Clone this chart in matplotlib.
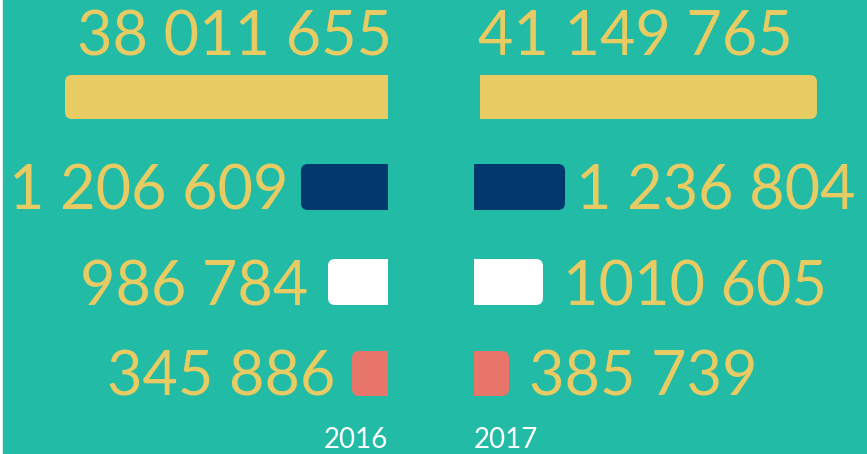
import matplotlib.pyplot as plt
from matplotlib.patches import FancyBboxPatch, Rectangle

# values for each row (top to bottom)
labels_2016 = ["38 011 655", "1 206 609", "986 784", "345 886"]
labels_2017 = ["41 149 765", "1 236 804", "1010 605", "385 739"]
values_2016 = [38011655, 1206609, 986784, 345886]
values_2017 = [41149765, 1236804, 1010605, 385739]
years = ["2016", "2017"]

colors = ["#E8CB62", "#01396E", "#FFFFFF", "#E8756A"]
bg = "#21BBA6"
txt_col = "#E8CB62"

# each row has its own scale (the original is not drawn to one scale)
xmax_2016 = [45.66e6, 5.38e6, 6.38e6, 3.73e6]
xmax_2017 = [47.26e6, 5.34e6, 5.76e6, 4.33e6]

W, H = 867, 454
# bar top / bottom in pixels from top of image
rows_px = [(75, 119), (164, 210), (259, 305), (351, 396)]
# gap between bar end and its label, pixels
gap_l = [0, 12, 20, 17]
gap_r = [0, 11, 20, 20]

fig = plt.figure(figsize=(W / 100, H / 100), dpi=100)
fig.patch.set_facecolor("white")
fig.add_artist(Rectangle((3 / W, 0), 1 - 3 / W, 1, transform=fig.transFigure,
                         color=bg, zorder=0))

font = dict(family="Lato", weight="normal", color=txt_col, fontsize=44)


def round_bar(ax, bar, radius_px):
    x, y = bar.get_x(), bar.get_y()
    w, h = bar.get_width(), bar.get_height()
    t = ax.transData
    sx = abs(t.transform((1, 0))[0] - t.transform((0, 0))[0])
    sy = abs(t.transform((0, 1))[1] - t.transform((0, 0))[1])
    r = radius_px / sx
    ax.add_patch(FancyBboxPatch((x, y), w, h,
                                boxstyle=f"round,pad=0,rounding_size={r}",
                                mutation_aspect=sx / sy,
                                fc=bar.get_facecolor(), ec="none", zorder=2))
    # square off the inner end
    ax.add_patch(Rectangle((x, y), w / 2, h, fc=bar.get_facecolor(),
                           ec="none", zorder=2))
    bar.set_visible(False)


for i, (top, bot) in enumerate(rows_px):
    yb = (H - bot) / H
    hh = (bot - top) / H
    right_x0 = 480 if i == 0 else 474

    axl = fig.add_axes([0, yb, 388 / W, hh])
    axr = fig.add_axes([right_x0 / W, yb, (W - right_x0) / W, hh])
    axl.set_xlim(xmax_2016[i], 0)
    axr.set_xlim(0, xmax_2017[i])

    for ax, v, lab, side, gap in [(axl, values_2016[i], labels_2016[i], -1, gap_l[i]),
                                  (axr, values_2017[i], labels_2017[i], 1, gap_r[i])]:
        ax.set_ylim(-0.5, 0.5)
        ax.axis("off")
        bars = ax.barh(0, v, height=1, color=colors[i])
        round_bar(ax, bars[0], 7)
        ha = "right" if side < 0 else "left"
        if i == 0:
            ax.annotate(lab, xy=(0, 0.5), xytext=(-2 if side > 0 else 4, 19),
                        textcoords="offset pixels", ha=ha, va="baseline",
                        annotation_clip=False, **font)
        else:
            ax.annotate(lab, xy=(v, -0.5), xytext=(side * gap, 0),
                        textcoords="offset pixels", ha=ha, va="baseline",
                        annotation_clip=False, **font)

    if i == 3:
        for ax, yr, ha in [(axl, years[0], "right"), (axr, years[1], "left")]:
            ax.annotate(yr, xy=(0, -0.5), xytext=(0, -57),
                        textcoords="offset pixels", ha=ha, va="bottom",
                        annotation_clip=False, family="Lato", weight="normal",
                        color="white", fontsize=20)

fig.savefig("out.png", dpi=100, facecolor=fig.get_facecolor())
